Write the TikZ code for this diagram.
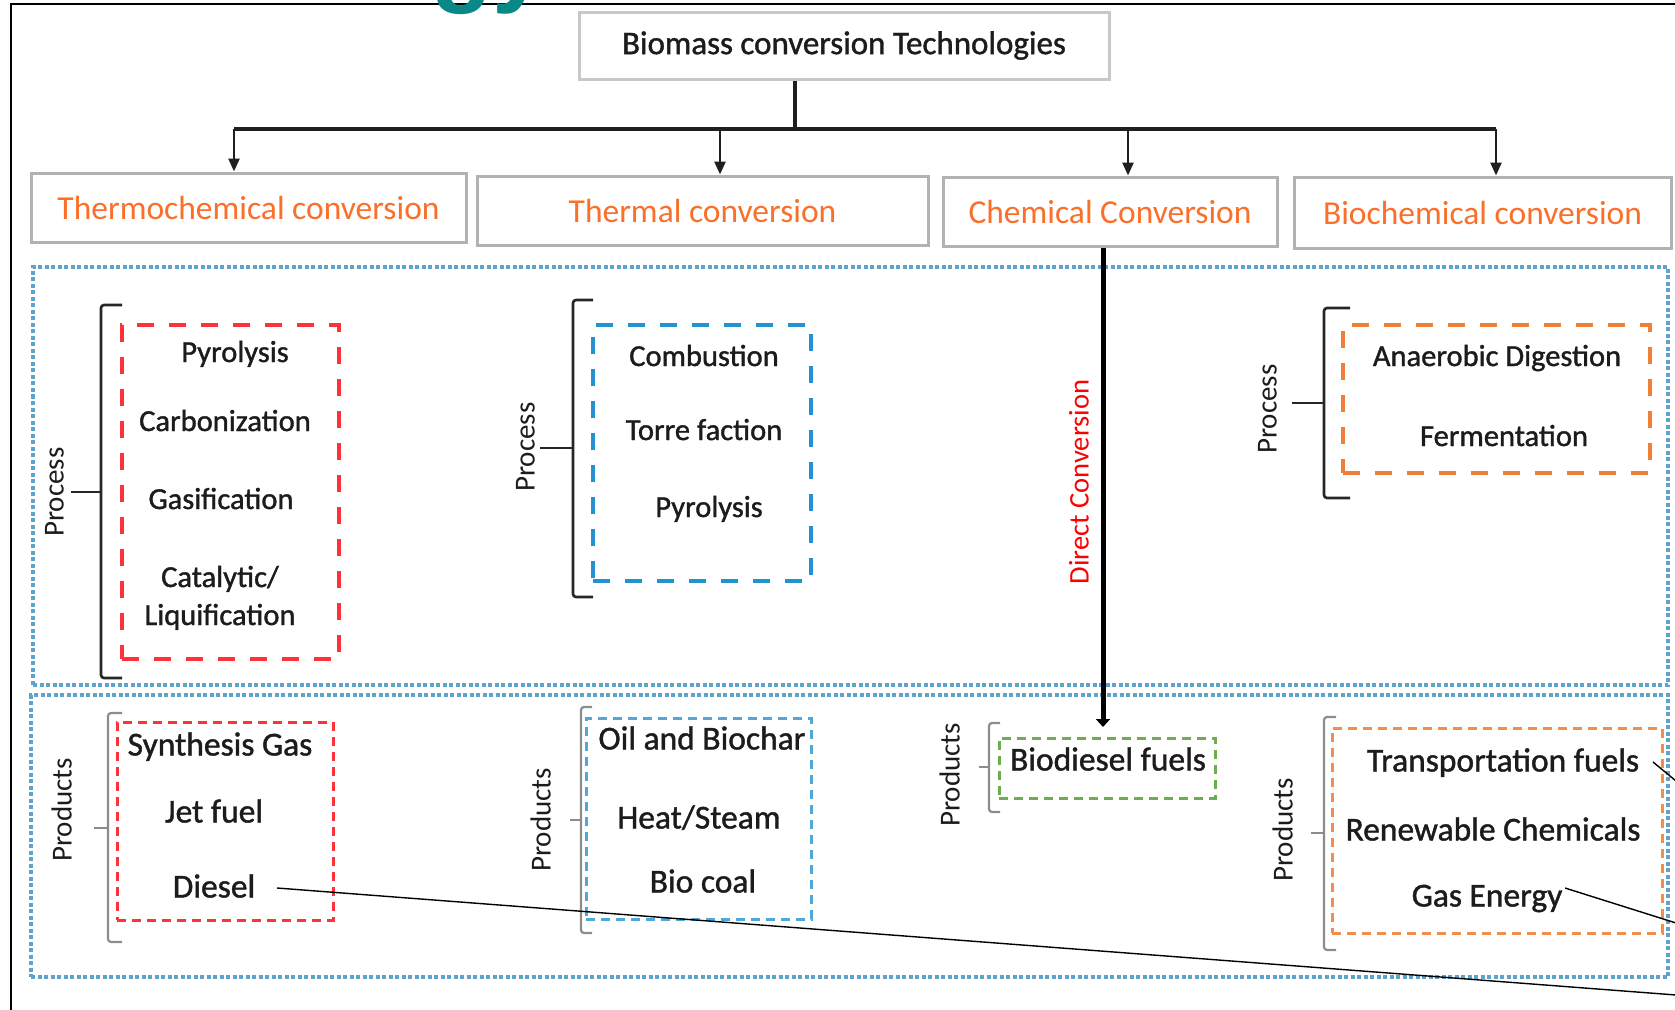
\documentclass[tikz,border=0pt]{standalone}
\usepackage{fontspec}
\setmainfont{Carlito}
\newfontfamily\headfont{Liberation Sans}
\newfontfamily\heavybody[FakeBold=1.2]{Carlito}
\usetikzlibrary{arrows.meta}

\definecolor{hdrorange}{RGB}{250,112,42}
\definecolor{boxgray}{RGB}{178,178,178}
\definecolor{titlegray}{RGB}{200,200,200}
\definecolor{regionblue}{RGB}{95,162,205}
\definecolor{dashred}{RGB}{255,50,55}
\definecolor{dashblue}{RGB}{35,145,210}
\definecolor{dashorange}{RGB}{240,128,55}
\definecolor{dashgreen}{RGB}{110,172,80}
\definecolor{bodytext}{RGB}{28,28,28}
\definecolor{tealhead}{RGB}{10,135,135}

\tikzset{
  titlebox/.style={draw=titlegray, line width=3pt, fill=white, inner sep=0pt,
    font=\heavybody\fontsize{33}{38}\selectfont, text=bodytext},
  catbox/.style={draw=boxgray, line width=3pt, fill=white, inner sep=0pt,
    font=\fontsize{33.5}{38}\selectfont, text=hdrorange},
  region/.style={draw=regionblue, line width=3.5pt, dash pattern=on 4pt off 2.5pt, inner sep=0pt},
  procbox/.style={line width=4pt, dash pattern=on 17pt off 15pt, inner sep=0pt},
  prodbox/.style={line width=3pt, dash pattern=on 9pt off 6pt, inner sep=0pt},
  proctext/.style={inner sep=0pt, text=bodytext, font=\heavybody\fontsize{30.5}{38}\selectfont,
    text height=20pt, text depth=0pt},
  prodtext/.style={inner sep=0pt, text=bodytext, font=\heavybody\fontsize{33.5}{38}\selectfont,
    text height=21pt, text depth=0pt},
  sidelabel/.style={inner sep=0pt, rotate=90, text=bodytext, font=\fontsize{29}{32}\selectfont,
    text height=19pt, text depth=0pt},
  procbracket/.style={draw=black!85, line width=2.6pt, rounded corners=3pt},
  prodbracket/.style={draw=black!45, line width=2.2pt, rounded corners=3pt},
  feed/.style={draw=black!88, line width=3.2pt},
  feedarrow/.style={draw=black!88, line width=2.6pt, -{Triangle[length=13pt,width=11pt]}},
  directarrow/.style={draw=black, line width=5pt, -{Triangle[length=8pt,width=14pt]}},
  leader/.style={draw=black, line width=1.4pt},
}

\begin{document}
\begin{tikzpicture}[x=1pt,y=-1pt]
\useasboundingbox (0,0) rectangle (1675,1009);
\fill[white] (0,0) rectangle (1675,1009);

% outer frame
\draw[black, line width=2.6pt] (11,1012) -- (11,4) -- (1680,4);

% partial heading above the frame
\begin{scope}
  \clip (0,0) rectangle (1675,1009);
  \node[anchor=base west, inner sep=0pt, text=tealhead,
        font=\headfont\bfseries\fontsize{100}{100}\selectfont] (heading) at (431,-6) {gy};
\end{scope}

% process and product regions
\node[region, minimum width=1635, minimum height=418] (procreg) at (850.5,476) {};
\node[region, minimum width=1637, minimum height=282] (prodreg) at (849.5,836) {};

% root and the four conversion routes
\node[titlebox, minimum width=530, minimum height=67] (root) at (844,45.5) {Biomass conversion Technologies};
\node[catbox, minimum width=435, minimum height=69] (thc) at (248.5,207.5) {Thermochemical conversion};
\node[catbox, minimum width=451, minimum height=69] (thm) at (702.5,210.5) {Thermal conversion};
\node[catbox, minimum width=334, minimum height=69] (chm) at (1110,211.5) {Chemical Conversion};
\node[catbox, minimum width=377, minimum height=71] (bio) at (1482.5,212.5) {Biochemical conversion};

% distribution bus
\coordinate (bus) at (795,129);
\coordinate (a1) at (234,129);
\coordinate (a2) at (720,129);
\coordinate (a3) at (1128,129);
\coordinate (a4) at (1496,129);
\draw[feed] (root.south -| bus) -- (bus);
\draw[feed] (a1) -- (a4);
\draw[feedarrow] (a1) -- (a1 |- thc.north);
\draw[feedarrow] (a2) -- (a2 |- thm.north);
\draw[feedarrow] (a3) -- (a3 |- chm.north);
\draw[feedarrow] (a4) -- (a4 |- bio.north);

% process groups
\node[procbox, draw=dashred, minimum width=217, minimum height=334] (tcproc) at (230.5,492) {};
\node[procbox, draw=dashblue, minimum width=218, minimum height=256] (thproc) at (702,453) {};
\node[procbox, draw=dashorange, minimum width=307, minimum height=148] (bcproc) at (1496.5,399) {};

\node[proctext] (pyro1) at (235,352) {Pyrolysis};
\node[proctext] (carb) at (225,421) {Carbonization};
\node[proctext] (gasi) at (221,499) {Gasification};
\node[proctext] (cata) at (220,577) {Catalytic/};
\node[proctext] (liqu) at (220,615) {Liquification};

\node[proctext] (comb) at (704,356) {Combustion};
\node[proctext] (torr) at (704,430) {Torre faction};
\node[proctext] (pyro2) at (709,507) {Pyrolysis};

\node[proctext] (anae) at (1497,356) {Anaerobic Digestion};
\node[proctext] (ferm) at (1504,436) {Fermentation};

% process brackets and labels
\draw[procbracket] (122,305) -- (101,305) -- (101,678) -- (122,678);
\draw[procbracket] (101,492) -- (71,492);
\node[sidelabel] (plab1) at (54,492) {Process};

\draw[procbracket] (593,300) -- (573,300) -- (573,597) -- (593,597);
\draw[procbracket] (573,448) -- (540,448);
\node[sidelabel] (plab2) at (525,447) {Process};

\draw[procbracket] (1350,308) -- (1324,308) -- (1324,498) -- (1350,498);
\draw[procbracket] (1324,403) -- (1292,403);
\node[sidelabel] (plab3) at (1267,409) {Process};

% product groups
\node[prodbox, draw=dashred, minimum width=216, minimum height=198] (tcprod) at (225,821) {};
\node[prodbox, draw=dashblue!80, minimum width=225, minimum height=201] (thprod) at (698.5,818.5) {};
\node[prodbox, draw=dashgreen, minimum width=216, minimum height=60] (chprod) at (1107,768) {};
\node[prodbox, draw=dashorange!90, minimum width=330, minimum height=205] (bcprod) at (1497,830.5) {};

\node[prodtext] (syng) at (220,745) {Synthesis Gas};
\node[prodtext] (jetf) at (214,812) {Jet fuel};
\node[prodtext] (dies) at (214,887) {Diesel};

\node[prodtext] (oilb) at (702,739) {Oil and Biochar};
\node[prodtext] (heat) at (699,818) {Heat/Steam};
\node[prodtext] (bcoal) at (703,882) {Bio coal};

\node[prodtext] (biod) at (1108,760) {Biodiesel fuels};

\node[prodtext] (trans) at (1503,761) {Transportation fuels};
\node[prodtext] (renew) at (1493,830) {Renewable Chemicals};
\node[prodtext] (gasen) at (1487,896) {Gas Energy};

% product brackets and labels
\draw[prodbracket] (122,713) -- (108,713) -- (108,942) -- (122,942);
\draw[prodbracket] (108,828) -- (94,828);
\node[sidelabel] (qlab1) at (62,810) {Products};

\draw[prodbracket] (592,707) -- (581,707) -- (581,933) -- (592,933);
\draw[prodbracket] (581,820) -- (570,820);
\node[sidelabel] (qlab2) at (541,820) {Products};

\draw[prodbracket] (1000,723) -- (989,723) -- (989,812) -- (1000,812);
\draw[prodbracket] (989,767) -- (979,767);
\node[sidelabel] (qlab3) at (950,775) {Products};

\draw[prodbracket] (1336,717) -- (1324,717) -- (1324,950) -- (1336,950);
\draw[prodbracket] (1324,833) -- (1311,833);
\node[sidelabel] (qlab4) at (1283,830) {Products};

% direct chemical route
\coordinate (dctip) at (1103,727);
\draw[directarrow] (chm.south -| dctip) -- (dctip);
\node[sidelabel, text=red, font=\fontsize{28.5}{32}\selectfont] (dclab) at (1079,482) {Direct Conversion};

% leader lines running off to the right
\coordinate (dieselA) at (277,888);
\coordinate (dieselB) at (1676,995);
\coordinate (transA) at (1653,762);
\coordinate (transB) at (1676,781);
\coordinate (gasA) at (1565,888);
\coordinate (gasB) at (1676,923);
\draw[leader] (dieselA) -- (dieselB);
\draw[leader] (transA) -- (transB);
\draw[leader] (gasA) -- (gasB);
\end{tikzpicture}
\end{document}
